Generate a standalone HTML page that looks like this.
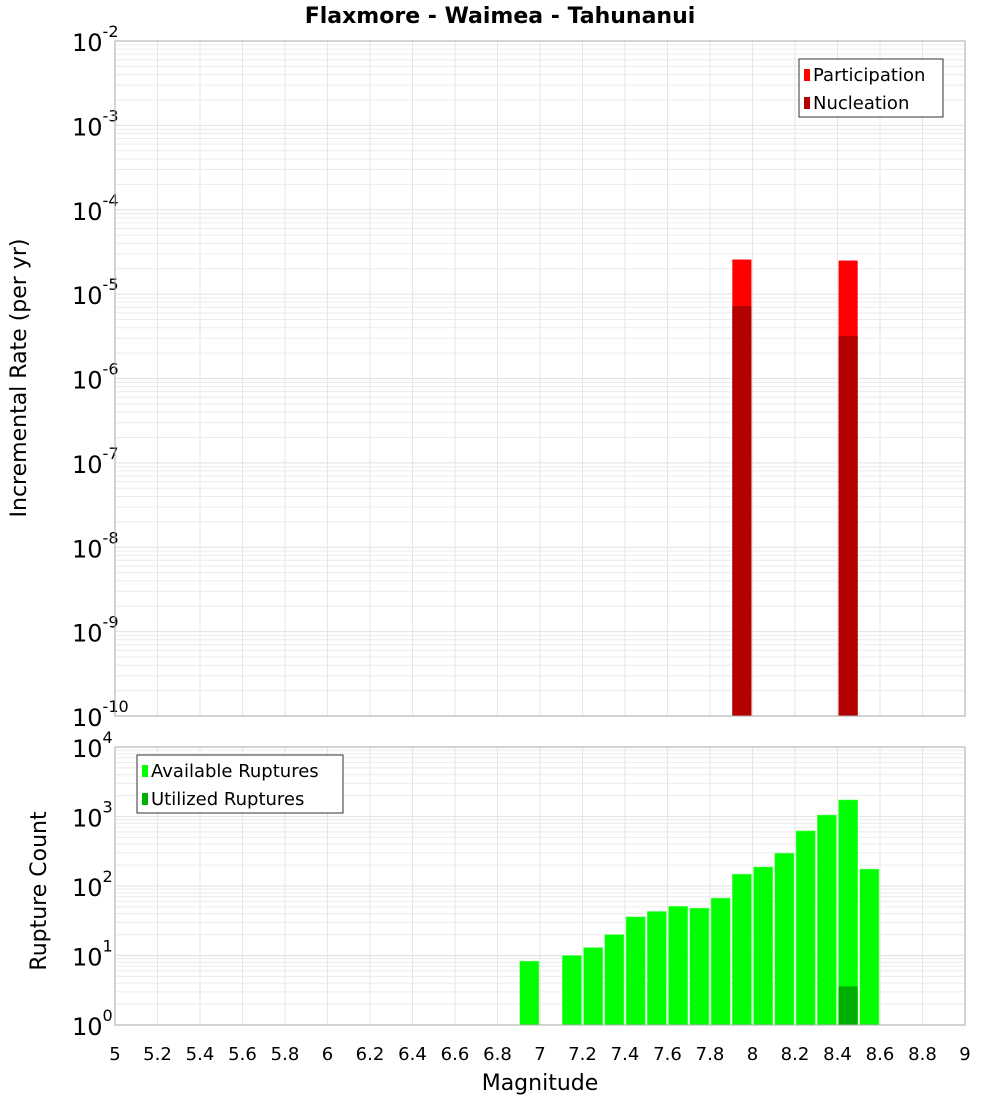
<!DOCTYPE html>
<html><head><meta charset="utf-8"><style>
body{margin:0;background:#fff;font-family:"DejaVu Sans","Liberation Sans",sans-serif}
svg text{font-family:"DejaVu Sans","Liberation Sans",sans-serif}
</style></head><body>
<svg id="chart" width="1000" height="1100" viewBox="0 0 1000 1100" xmlns="http://www.w3.org/2000/svg">
<text x="500" y="23" text-anchor="middle" font-size="22" font-weight="bold">Flaxmore - Waimea - Tahunanui</text>
<g id="top"></g><g id="bot"></g>
<text transform="translate(26,378) rotate(-90)" text-anchor="middle" font-size="22">Incremental Rate (per yr)</text>
<text transform="translate(46,891) rotate(-90)" text-anchor="middle" font-size="22">Rupture Count</text>
<text x="540" y="1090" text-anchor="middle" font-size="22">Magnitude</text>
</svg>
<script>
const mags=[6.95,7.15,7.25,7.35,7.45,7.55,7.65,7.75,7.85,7.95,8.05,8.15,8.25,8.35,8.45,8.55];
const available=[8.3,10,13,20,36,43,51,48,67,148,188,297,620,1050,1730,175];
const utilMags=[7.95,8.45];
const utilized=[0.96,3.6];
const rateMags=[7.95,8.45];
const participation=[2.57e-5,2.5e-5];
const nucleation=[7.2e-6,3.2e-6];
const xTicks=["5","5.2","5.4","5.6","5.8","6","6.2","6.4","6.6","6.8","7","7.2","7.4","7.6","7.8","8","8.2","8.4","8.6","8.8","9"];
const topDecades=[-2,-3,-4,-5,-6,-7,-8,-9,-10];
const botDecades=[4,3,2,1,0];
const NS="http://www.w3.org/2000/svg";
const svg=document.getElementById('chart');
const L=115,R=965;
const x=m=>L+(m-5)/4*(R-L);
function el(t,a,p){const e=document.createElementNS(NS,t);for(const k in a)e.setAttribute(k,a[k]);(p||svg).appendChild(e);return e;}
function panel(g,top,bot,yTop,yMin,yMaxDec,yMinDec,decs,name){
  const dec=(bot-top)/(yMaxDec-yMinDec);
  const y=v=>top+(yMaxDec-Math.log10(v))*dec;
  const yB=Math.min(bot,y(yMin));
  const bg=el('rect',{x:L,y:top,width:R-L,height:yB-top,fill:'#fff'},g);
  
  
  for(let d=yMinDec-1;d<yMaxDec;d++)for(let k=1;k<10;k++){const yy=y(k*Math.pow(10,d));if(yy<top||yy>yB)continue;
    const ln=el('line',{x1:L,x2:R,y1:yy,y2:yy,stroke:k==1?'#e2e2e2':'#ececec','stroke-width':1},g);
    
    }
  xTicks.forEach(t=>{const xx=x(+t);const ln=el('line',{x1:xx,x2:xx,y1:top,y2:yB,stroke:'#e6e6e6'},g);
    
    });
  decs.forEach(d=>{const yy=y(Math.pow(10,d));const t=el('text',{x:72,y:yy+10,'font-size':24},g);
    
    
    t.textContent='10';const s=el('tspan',{dy:-14,'font-size':16},t);s.textContent=String(d);});
  return {y,yB};
}
const tg=document.getElementById('top'),bg2=document.getElementById('bot');
const T=panel(tg,41,716,0,1e-10,-2,-10,topDecades,'top');
const bw=(R-L)/40*0.9;
rateMags.forEach((m,i)=>{
  const b=el('rect',{x:x(m)-bw/2,y:T.y(participation[i]),width:bw,height:T.yB-T.y(participation[i]),fill:'#ff0000'},tg);
  
  
  const n=el('rect',{x:x(m)-bw/2,y:T.y(nucleation[i]),width:bw,height:T.yB-T.y(nucleation[i]),fill:'#b30000'},tg);
  
  
});
el('rect',{x:L,y:41,width:R-L,height:675,fill:'none',stroke:'#aaa'},tg);
const B=panel(bg2,747,1025,0,0.72,4,0,botDecades,'bottom');
mags.forEach((m,i)=>{const yy=B.y(available[i]);
  const b=el('rect',{x:x(m)-bw/2,y:yy,width:bw,height:B.yB-yy,fill:'#00ff00',stroke:'#66ff66','stroke-width':0.5},bg2);
  
  });
utilMags.forEach((m,i)=>{const yy=B.y(utilized[i]);
  const b=el('rect',{x:x(m)-bw/2,y:yy,width:bw,height:B.yB-yy,fill:'#00b000'},bg2);
  
  });
el('rect',{x:L,y:747,width:R-L,height:B.yB-747,fill:'none',stroke:'#aaa'},bg2);
xTicks.forEach(t=>{const e=el('text',{x:x(+t),y:1060,'text-anchor':'middle','font-size':18});
  
  
  e.textContent=t;});
function legend(lx,ly,w,items,name){
  const g=el('g',{});
  
  
  el('rect',{x:lx,y:ly,width:w,height:58,fill:'#fff',stroke:'#333'},g);
  items.forEach((it,i)=>{el('rect',{x:lx+5,y:ly+10+i*28,width:6,height:12,fill:it[1]},g);
    const t=el('text',{x:lx+14,y:ly+22+i*28,'font-size':18},g);
    
    
    t.textContent=it[0];});
}
legend(799,59,144,[['Participation','#ff0000'],['Nucleation','#b30000']],'top-legend');
legend(137,755,206,[['Available Ruptures','#00ff00'],['Utilized Ruptures','#00b000']],'bottom-legend');
</script>
</body></html>
